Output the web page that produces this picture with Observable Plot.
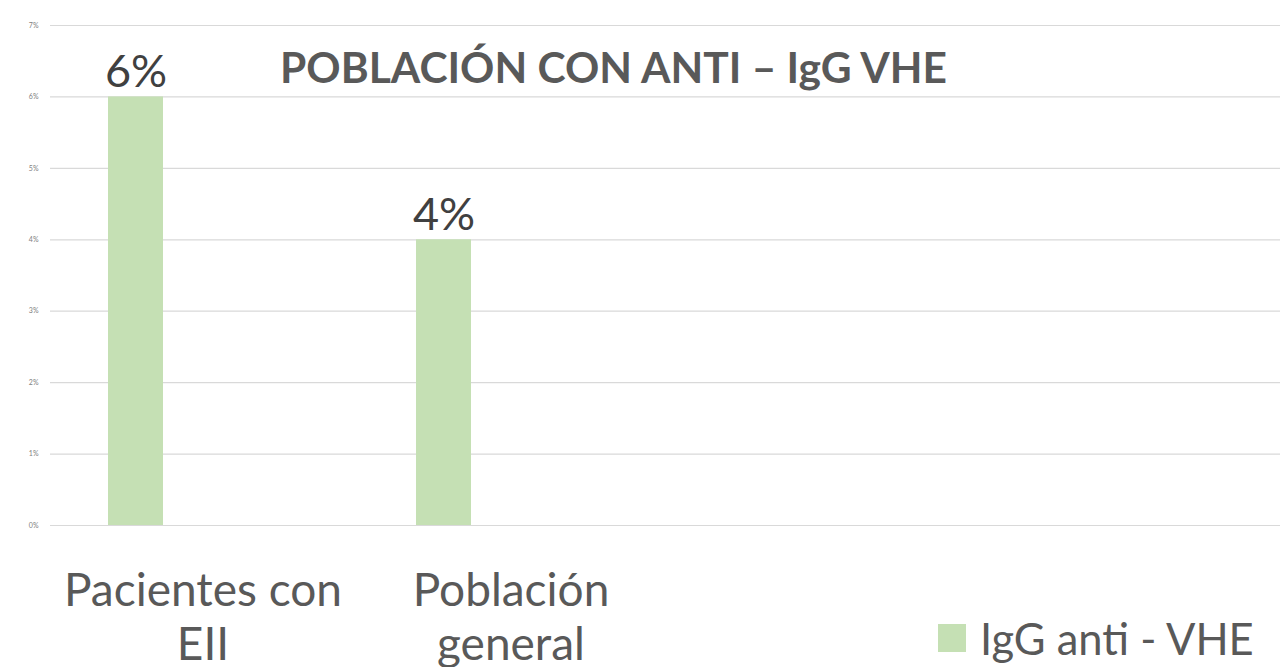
<!DOCTYPE html>
<html>
<head>
<meta charset="utf-8">
<script src="https://cdn.jsdelivr.net/npm/d3@7"></script>
<script src="https://cdn.jsdelivr.net/npm/@observablehq/plot@0.6"></script>
<style>
  html, body { margin: 0; padding: 0; background: #ffffff; }
  #wrap { position: relative; width: 1280px; height: 667px; overflow: hidden; font-family: Lato, "Open Sans", sans-serif; }
  #legend { position: absolute; left: 938px; top: 612px; width: 342px; white-space: nowrap; }
  #legend svg { margin-right: 14px !important; }
</style>
</head>
<body>
<div id="wrap"><div id="chart"></div><div id="legend"></div></div>
<script>
const categories = ["Pacientes con EII", "Población general"];
const categoryLabels = ["Pacientes con\nEII", "Población\ngeneral"];
const values = [0.06, 0.04];
const valueLabels = ["6%", "4%"];
const yTicks = [0, 0.01, 0.02, 0.03, 0.04, 0.05, 0.06, 0.07];
const chartTitle = "POBLACIÓN CON ANTI – IgG VHE";
const seriesName = "IgG anti - VHE";

const data = categories.map((c, i) => ({
  category: c,
  label: categoryLabels[i],
  value: values[i],
  text: valueLabels[i],
  series: seriesName
}));

const colorScale = { domain: [seriesName], range: ["#c5e0b4"] };

const chart = Plot.plot({
  width: 1280,
  height: 667,
  marginLeft: 50,
  marginRight: 0,
  marginTop: 25,
  marginBottom: 142,
  style: { fontFamily: "Lato, 'Open Sans', sans-serif", background: "transparent" },
  x: { domain: categories, range: [-18, 598], paddingInner: 0.82, paddingOuter: 0.41, axis: null },
  y: { domain: [0, 0.07], axis: null },
  color: colorScale,
  marks: [
    Plot.ruleY(yTicks, { stroke: "#d9d9d9", strokeWidth: 1.2 }),
    Plot.axisY(yTicks, { tickSize: 0, tickPadding: 12, tickFormat: d3.format(".0%"), fontSize: 7, fill: "#808080", label: null }),
    Plot.barY(data, { x: "category", y: "value", fill: "series" }),
    Plot.text(data, { x: "category", y: "value", text: "text", dy: -10, lineAnchor: "bottom", fontSize: 45, fill: "#404040" }),
    Plot.text(data, { x: "category", text: "label", frameAnchor: "bottom", lineAnchor: "top", dy: 43, dx: 67, fontSize: 46, lineHeight: 1.16, fill: "#595959" }),
    Plot.text([chartTitle], { frameAnchor: "top", dx: -52, dy: 57, lineAnchor: "bottom", fontSize: 42.5, fontWeight: "bold", fill: "#595959" })
  ]
});
document.getElementById("chart").appendChild(chart);

const legend = Plot.legend({
  color: colorScale,
  swatchSize: 28,
  style: { fontSize: "43.5px", color: "#595959", fontFamily: "Lato, 'Open Sans', sans-serif", background: "transparent" }
});
document.getElementById("legend").appendChild(legend);
</script>
</body>
</html>
